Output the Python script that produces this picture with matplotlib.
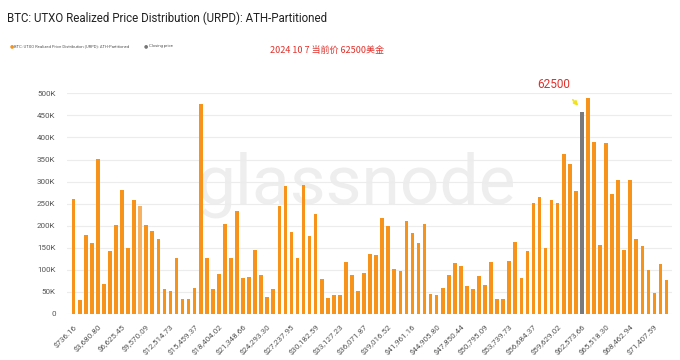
import matplotlib
matplotlib.use('Agg')
import matplotlib.pyplot as plt
from matplotlib.ticker import FuncFormatter, MultipleLocator
import numpy as np

# URPD supply per price bucket (BTC, in thousands)
supply_k = [261, 32, 180, 160, 351, 68, 143, 201, 282, 149, 258, 244, 201, 187, 171, 57,
            51, 126, 35, 35, 58, 476, 128, 57,
            90, 204, 128, 233, 81, 83, 145, 88, 39, 57, 244, 290, 185, 128, 292, 177,
            227, 79, 37, 42, 42, 118, 89, 53, 92,
            137, 134, 217, 199, 102, 97, 211, 184, 161, 204, 45, 43, 60, 88, 116, 109,
            63, 56, 87, 66, 118, 34, 34, 119, 164,
            81, 143, 251, 265, 150, 259, 251, 363, 340, 279, 457, 489, 390, 157, 387,
            272, 304, 144, 304, 171, 153, 100, 47, 114, 77]
CLOSE_IDX = 84
HOVER_IDX = 11

tick_labels = ['$736.16', '$3,680.80', '$6,625.45', '$9,570.09', '$12,514.73', '$15,459.37',
               '$18,404.02', '$21,348.66', '$24,293.30', '$27,237.95', '$30,182.59',
               '$33,127.23', '$36,071.87', '$39,016.52', '$41,961.16', '$44,905.80',
               '$47,850.44', '$50,795.09', '$53,739.73', '$56,684.37', '$59,629.02',
               '$62,573.66', '$65,518.30', '$68,462.94', '$71,407.59']
TICK_STEP = 4

ORANGE = '#f7931a'
ORANGE_LIGHT = '#f6b262'
GREY_BAR = '#7a7a7d'
TXT = '#555555'
FONT = ['Roboto', 'DejaVu Sans']
CJK = ['Noto Sans CJK SC', 'DejaVu Sans']

vals = np.array(supply_k) * 1000
x = np.arange(len(vals))
colors = [ORANGE] * len(vals)
colors[HOVER_IDX] = ORANGE_LIGHT
colors[CLOSE_IDX] = GREY_BAR

fig = plt.figure(figsize=(6.8, 3.6), dpi=100)
ax = fig.add_axes([66.7 / 680, 1 - 314 / 360, (672 - 66.7) / 680, (314 - 93.3) / 360])

ax.bar(x, vals, width=0.6, color=colors, zorder=2)

ax.set_xlim(-1.15, len(vals) - 0.1)
ax.set_ylim(0, 500000)
ax.yaxis.set_major_locator(MultipleLocator(50000))
ax.yaxis.set_major_formatter(FuncFormatter(lambda v, p: '0' if v == 0 else f'{int(v / 1000)}K'))
ax.grid(axis='y', color='#ececec', lw=0.8, zorder=0)
ax.set_xticks(x[::TICK_STEP])
ax.set_xticklabels(tick_labels, rotation=45, ha='right', va='top', rotation_mode='anchor')
for s in ax.spines.values():
    s.set_visible(False)
ax.tick_params(axis='both', length=0, labelsize=5.8, labelcolor=TXT)
ax.tick_params(axis='x', pad=7)
ax.tick_params(axis='y', pad=8)
for t in ax.get_xticklabels() + ax.get_yticklabels():
    t.set_fontfamily(FONT)

# watermark
ax.text(0.478, 0.585, 'glassnode', transform=ax.transAxes, fontsize=50, color='#eeeeee',
        ha='center', va='center', family=FONT, zorder=1)

# title + legend
fig.text(7 / 680, 1 - 18 / 360, 'BTC: UTXO Realized Price Distribution (URPD): ATH-Partitioned',
         fontsize=8.3, color='#222222', ha='left', va='center', family=FONT)
fig.text(10 / 680, 1 - 46 / 360, '●', fontsize=3.5, color=ORANGE, ha='left', va='center', family=FONT)
fig.text(14 / 680, 1 - 46 / 360, 'BTC: UTXO Realized Price Distribution (URPD): ATH-Partitioned',
         fontsize=3.0, color=TXT, ha='left', va='center', family=FONT)
fig.text(144 / 680, 1 - 46 / 360, '●', fontsize=3.5, color='#777777', ha='left', va='center', family=FONT)
fig.text(149 / 680, 1 - 46 / 360, 'Closing price', fontsize=3.0, color=TXT, ha='left', va='center', family=FONT)

# annotations
fig.text(270 / 680, 1 - 50 / 360, '2024 10 7 当前价 62500美金', fontsize=6.5, color='#e0302a',
         ha='left', va='center', family=CJK)
ax.text(CLOSE_IDX - 2.0, 506000, '62500', fontsize=8.5, color='#e0302a', ha='right', va='bottom',
        family=FONT, clip_on=False)
ax.annotate('', xy=(CLOSE_IDX - 0.3, vals[CLOSE_IDX] + 10000),
            xytext=(CLOSE_IDX - 1.8, 490000),
            arrowprops=dict(arrowstyle='-|>', color='#f2e21a', lw=1.2, mutation_scale=6),
            annotation_clip=False)

fig.savefig('out.png', dpi=100, facecolor='white')
